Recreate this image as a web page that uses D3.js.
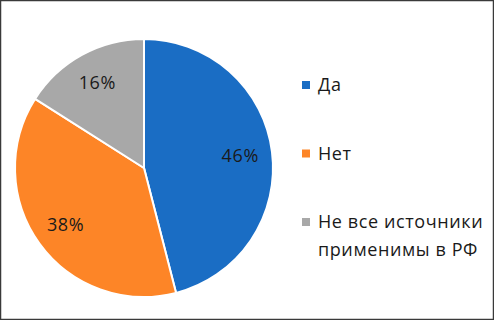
<!DOCTYPE html>
<html>
<head>
<meta charset="utf-8">
<script src="https://cdn.jsdelivr.net/npm/d3@7"></script>
<style>
    body { margin: 0; background: #fff; }
    svg { display: block; font-family: "Open Sans", sans-serif; }
</style>
</head>
<body>
<svg width="494" height="320"></svg>
<script>
const width = 494;
const height = 320;
const svg = d3.select("svg");

const categories = ["Да", "Нет", "Не все источники применимы в РФ"];
const legendLines = [["Да"], ["Нет"], ["Не все источники", "применимы в РФ"]];
const values = [46, 38, 16];
const colors = ["#1a6dc4", "#fd8527", "#a8a8a8"];

const cx = 144, cy = 168, radius = 129;

// frame
svg.append("rect")
    .attr("x", 0.5).attr("y", 0.5)
    .attr("width", width - 1).attr("height", height - 1)
    .attr("fill", "#fff")
    .attr("stroke", "#3a3a3a")
    .attr("stroke-width", 1.5);

const pie = d3.pie().sort(null).value(d => d);
const arcs = pie(values);
const arc = d3.arc().innerRadius(0).outerRadius(radius);
const labelArc = d3.arc().innerRadius(97).outerRadius(97);

const g = svg.append("g").attr("transform", `translate(${cx},${cy})`);

g.selectAll("path")
    .data(arcs)
    .enter()
    .append("path")
    .attr("d", arc)
    .attr("fill", (d, i) => colors[i])
    .attr("stroke", "#fff")
    .attr("stroke-width", 2);

g.selectAll("text")
    .data(arcs)
    .enter()
    .append("text")
    .attr("transform", d => `translate(${labelArc.centroid(d)})`)
    .attr("text-anchor", "middle")
    .attr("dy", "0.35em")
    .attr("font-size", 18)
    .attr("letter-spacing", 0.6)
    .attr("fill", "#1a1a1a")
    .text(d => d.data + "%");

// legend
const legendY = d3.scalePoint().domain(categories).range([85, 222]);
const legend = svg.append("g");

categories.forEach((c, i) => {
    const y = legendY(c);
    legend.append("rect")
        .attr("x", 302).attr("y", y - 4)
        .attr("width", 8).attr("height", 8)
        .attr("fill", colors[i]);
    const t = legend.append("text")
        .attr("x", 318).attr("y", y)
        .attr("font-size", 18)
        .attr("letter-spacing", 0.6)
        .attr("fill", "#1a1a1a");
    legendLines[i].forEach((line, j) => {
        t.append("tspan")
            .attr("x", 318)
            .attr("dy", j === 0 ? "0.35em" : 28)
            .text(line);
    });
});
</script>
</body>
</html>
